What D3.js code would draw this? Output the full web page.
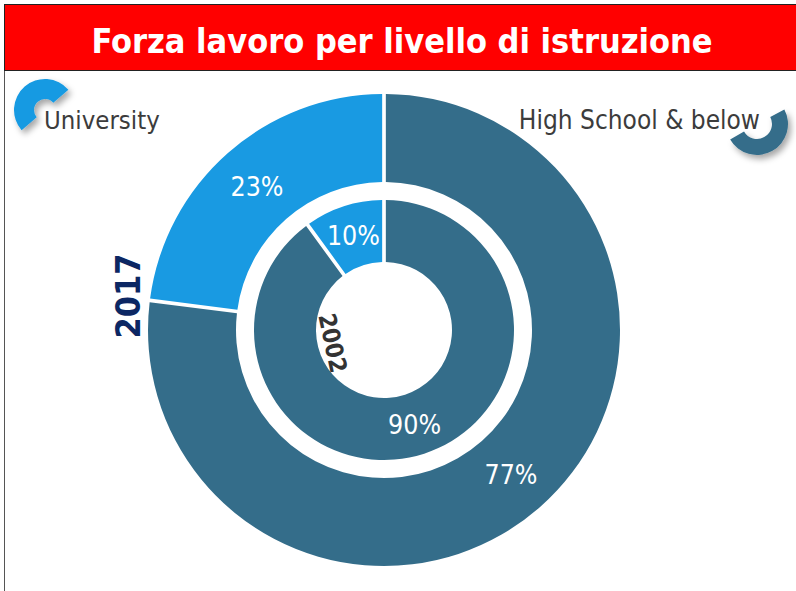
<!DOCTYPE html>
<html>
<head>
<meta charset="utf-8">
<script src="https://cdn.jsdelivr.net/npm/d3@7"></script>
<style>
  body { margin: 0; background: #fff; }
  svg { display: block; }
</style>
</head>
<body>
<div id="chart"></div>
<script>
const title = "Forza lavoro per livello di istruzione";
const categories = ["High School & below", "University"];
const years = ["2017", "2002"];
const share2017 = [77, 23];
const share2002 = [90, 10];

const width = 796, height = 591;
const cx = 384, cy = 330;
const colors = d3.scaleOrdinal().domain(categories).range(["#346d8a", "#199ae2"]);
const labelFont = "'DejaVu Sans Condensed', 'DejaVu Sans', sans-serif";

const svg = d3.select("#chart").append("svg")
    .attr("width", width)
    .attr("height", height);

const defs = svg.append("defs");
defs.append("filter").attr("id", "shadow")
    .attr("x", "-50%").attr("y", "-50%").attr("width", "200%").attr("height", "200%")
    .append("feDropShadow")
    .attr("dx", 3).attr("dy", 4).attr("stdDeviation", 3)
    .attr("flood-color", "#000").attr("flood-opacity", 0.35);

// frame + title bar
svg.append("rect")
    .attr("x", 4.5).attr("y", 4.5).attr("width", 800).attr("height", 600)
    .attr("fill", "#fff").attr("stroke", "#555");
svg.append("rect")
    .attr("x", 4.5).attr("y", 4.5).attr("width", 800).attr("height", 66)
    .attr("fill", "#ff0000").attr("stroke", "#222");
svg.append("text")
    .attr("x", 402).attr("y", 53)
    .attr("text-anchor", "middle")
    .style("font-family", labelFont)
    .style("font-weight", "bold")
    .style("font-size", "34px")
    .style("fill", "#fff")
    .text(title);

const pie = d3.pie().sort(null).value(d => d.value);

const rings = [
    { year: years[0], values: share2017, inner: 148, outer: 236 },
    { year: years[1], values: share2002, inner: 68, outer: 130 }
];

const g = svg.append("g").attr("transform", `translate(${cx},${cy})`);

rings.forEach(ring => {
    const arc = d3.arc()
        .innerRadius(ring.inner)
        .outerRadius(ring.outer)
        .padAngle(0.016)
        .padRadius(230);
    const labelArc = d3.arc()
        .innerRadius(ring.inner)
        .outerRadius(ring.outer);
    const slices = pie(ring.values.map((v, i) => ({ cat: categories[i], value: v })));

    g.selectAll(null)
        .data(slices)
        .enter()
        .append("path")
        .attr("d", arc)
        .attr("fill", d => colors(d.data.cat));

    g.selectAll(null)
        .data(slices)
        .enter()
        .append("text")
        .attr("transform", d => `translate(${labelArc.centroid(d)})`)
        .attr("text-anchor", "middle")
        .attr("dy", "0.36em")
        .style("font-family", labelFont)
        .style("font-size", "26.5px")
        .style("fill", "#fff")
        .text(d => `${d.data.value}%`);
});

// year labels
svg.append("text")
    .attr("transform", "translate(128,296) rotate(-90)")
    .attr("text-anchor", "middle")
    .attr("dy", "0.36em")
    .style("font-family", labelFont)
    .style("font-weight", "bold")
    .style("font-size", "34px")
    .style("fill", "#0c2763")
    .text(years[0]);
svg.append("text")
    .attr("transform", "translate(333,343) rotate(78)")
    .attr("text-anchor", "middle")
    .attr("dy", "0.36em")
    .style("font-family", labelFont)
    .style("font-weight", "bold")
    .style("font-size", "24px")
    .style("fill", "#333")
    .text(years[1]);

// legend icons (half rings) + names
const iconArc = d3.arc();
svg.append("path")
    .attr("transform", "translate(45,110)")
    .attr("d", iconArc({ innerRadius: 11, outerRadius: 31, startAngle: -131 * Math.PI / 180, endAngle: 49 * Math.PI / 180 }))
    .attr("fill", colors(categories[1]))
    .attr("filter", "url(#shadow)");
svg.append("path")
    .attr("transform", "translate(757,124)")
    .attr("d", iconArc({ innerRadius: 15, outerRadius: 31, startAngle: 62 * Math.PI / 180, endAngle: 240 * Math.PI / 180 }))
    .attr("fill", colors(categories[0]))
    .attr("filter", "url(#shadow)");

svg.append("text")
    .attr("x", 44).attr("y", 129)
    .style("font-family", labelFont)
    .style("font-size", "25.5px")
    .style("fill", "#3c3c3c")
    .text(categories[1]);
svg.append("text")
    .attr("x", 760).attr("y", 129)
    .attr("text-anchor", "end")
    .style("font-family", labelFont)
    .style("font-size", "26px")
    .style("fill", "#3c3c3c")
    .text(categories[0]);
</script>
</body>
</html>
